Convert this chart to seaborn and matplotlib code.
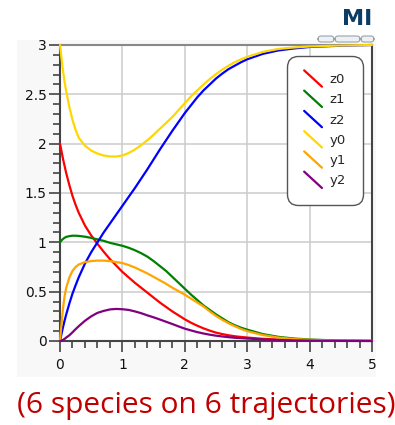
import numpy as np
import pandas as pd
import matplotlib
matplotlib.use("Agg")
import matplotlib.pyplot as plt
import seaborn as sns
from matplotlib.lines import Line2D
from matplotlib.legend_handler import HandlerBase
from matplotlib.patches import Rectangle, FancyBboxPatch
from matplotlib.ticker import MultipleLocator, FuncFormatter

# ---------------- data ----------------
t = [0, 0.025, 0.05, 0.075, 0.1, 0.15, 0.2, 0.25,
     0.3, 0.4, 0.5, 0.6, 0.7, 0.8, 0.9, 1.0,
     1.1, 1.2, 1.3, 1.4, 1.5, 1.6, 1.7, 1.8, 1.9, 2.0,
     2.1, 2.2, 2.3, 2.4, 2.5, 2.6, 2.7, 2.8, 2.9, 3.0,
     3.25, 3.5, 3.75, 4.0, 4.5, 5.0]

z0 = [2.0, 1.92, 1.84, 1.77, 1.70, 1.58, 1.47, 1.38,
      1.30, 1.17, 1.07, 0.985, 0.905, 0.83, 0.765, 0.70,
      0.645, 0.59, 0.54, 0.49, 0.44, 0.39, 0.345, 0.30, 0.26, 0.22,
      0.185, 0.155, 0.128, 0.105, 0.085, 0.07, 0.058, 0.048, 0.041, 0.035,
      0.022, 0.014, 0.009, 0.006, 0.002, 0.001]
z1 = [1.0, 1.02, 1.035, 1.047, 1.055, 1.063, 1.067, 1.067,
      1.065, 1.057, 1.045, 1.03, 1.015, 0.995, 0.98, 0.965,
      0.945, 0.92, 0.89, 0.855, 0.81, 0.76, 0.71, 0.65, 0.59, 0.53,
      0.47, 0.415, 0.36, 0.315, 0.27, 0.23, 0.19, 0.16, 0.135, 0.115,
      0.07, 0.042, 0.025, 0.015, 0.004, 0.001]
z2 = [0.0, 0.075, 0.145, 0.21, 0.27, 0.38, 0.48, 0.565,
      0.645, 0.785, 0.90, 1.0, 1.10, 1.19, 1.28, 1.37,
      1.46, 1.55, 1.645, 1.74, 1.84, 1.94, 2.035, 2.13, 2.22, 2.31,
      2.39, 2.47, 2.54, 2.60, 2.66, 2.71, 2.755, 2.79, 2.825, 2.855,
      2.91, 2.945, 2.965, 2.98, 2.993, 3.0]
y0 = [3.0, 2.86, 2.73, 2.62, 2.53, 2.37, 2.24, 2.14,
      2.06, 1.98, 1.93, 1.90, 1.88, 1.87, 1.87, 1.88,
      1.905, 1.94, 1.985, 2.035, 2.09, 2.15, 2.21, 2.27, 2.34, 2.41,
      2.48, 2.54, 2.60, 2.655, 2.705, 2.75, 2.79, 2.825, 2.855, 2.88,
      2.93, 2.96, 2.975, 2.985, 2.995, 3.0]
y1 = [0.0, 0.18, 0.34, 0.46, 0.54, 0.645, 0.71, 0.75,
      0.775, 0.80, 0.81, 0.815, 0.815, 0.81, 0.80, 0.79,
      0.77, 0.745, 0.715, 0.685, 0.65, 0.615, 0.58, 0.54, 0.505, 0.47,
      0.43, 0.39, 0.35, 0.30, 0.255, 0.215, 0.18, 0.15, 0.122, 0.10,
      0.06, 0.035, 0.02, 0.012, 0.004, 0.001]
y2 = [0.0, 0.004, 0.012, 0.022, 0.035, 0.058, 0.088, 0.12,
      0.15, 0.205, 0.25, 0.285, 0.305, 0.32, 0.325, 0.322,
      0.315, 0.30, 0.282, 0.26, 0.24, 0.218, 0.195, 0.172, 0.148, 0.125,
      0.107, 0.09, 0.076, 0.064, 0.054, 0.046, 0.039, 0.033, 0.029, 0.025,
      0.016, 0.01, 0.006, 0.004, 0.001, 0.0]

species = ["z0", "z1", "z2", "y0", "y1", "y2"]
colors = {"z0": "#ff0000", "z1": "#008000", "z2": "#0000ff",
          "y0": "#ffd700", "y1": "#ffa500", "y2": "#800080"}
title = "(6 species on 6 trajectories)"

series = {"z0": z0, "z1": z1, "z2": z2, "y0": y0, "y1": y1, "y2": y2}
df = pd.DataFrame({
    "t": np.tile(t, len(species)),
    "value": np.concatenate([series[s] for s in species]),
    "species": np.repeat(species, len(t)),
})

# ---------------- figure ----------------
sns.set_theme(style="white")
plt.rcParams["font.family"] = ["DejaVu Sans"]

W, H = 395, 425
fig = plt.figure(figsize=(W / 100, H / 100), dpi=100)
fig.patch.set_facecolor("white")

def fx(px):
    return px / W

def fy(py):
    return 1 - py / H

# faint widget panel
fig.add_artist(Rectangle((fx(17), fy(377)), fx(376) - fx(17), fy(40) - fy(377),
                         transform=fig.transFigure, facecolor="#f8f8f8",
                         edgecolor="none", zorder=-5))

ax = fig.add_axes([fx(60), fy(341), fx(372) - fx(60), fy(45) - fy(341)])
ax.set_facecolor("white")

sns.lineplot(data=df, x="t", y="value", hue="species", hue_order=species,
             palette=colors, linewidth=1.6, legend=False, ax=ax,
             sort=False, estimator=None)
for ln in ax.get_lines():
    ln.set_clip_on(False)
    ln.set_zorder(3)
    ln.set_solid_capstyle("round")
    ln.set_solid_joinstyle("round")

ax.set_xlim(0, 5)
ax.set_ylim(0, 3)
ax.set_xlabel("")
ax.set_ylabel("")
ax.xaxis.set_major_locator(MultipleLocator(1))
ax.xaxis.set_minor_locator(MultipleLocator(0.2))
ax.yaxis.set_major_locator(MultipleLocator(0.5))
ax.yaxis.set_minor_locator(MultipleLocator(0.1))
ax.yaxis.set_major_formatter(FuncFormatter(lambda v, p: f"{v:g}"))
ax.grid(True, which="major", color="#cccccc", linewidth=1.1)
ax.set_axisbelow(True)

ax.tick_params(which="major", direction="out", length=8, width=1.1, color="#333333",
               labelsize=10, labelcolor="#111111", bottom=True, left=True)
ax.tick_params(axis="y", which="major", pad=1.5)
ax.tick_params(axis="x", which="major", pad=4)
ax.tick_params(which="minor", direction="out", length=4.8, width=1.1, color="#333333",
               bottom=True, left=True)

for side, sp in ax.spines.items():
    sp.set_visible(True)
    sp.set_linewidth(1.5)
    sp.set_color("#444444")
ax.spines["top"].set_color("#888888")

# ---------------- legend with diagonal handles ----------------
class DiagHandler(HandlerBase):
    def create_artists(self, legend, orig_handle, xdescent, ydescent,
                       width, height, fontsize, trans):
        cy = -ydescent + height / 2
        dy = 0.62 * fontsize
        x0 = -xdescent
        line = Line2D([x0, x0 + width], [cy + dy, cy - dy],
                      color=orig_handle.get_color(), linewidth=1.6,
                      transform=trans)
        return [line]

handles = [Line2D([], [], color=colors[s], label=s) for s in species]
leg = ax.legend(handles=handles, labels=species,
                handler_map={Line2D: DiagHandler()},
                loc="upper left", bbox_to_anchor=(fx(287), fy(56)),
                bbox_transform=fig.transFigure, fontsize=9.5,
                frameon=True, fancybox=True, borderpad=1.3, labelspacing=0.55,
                handlelength=1.35, handletextpad=0.55, borderaxespad=0)
fr = leg.get_frame()
fr.set_boxstyle("round", pad=0, rounding_size=0.8)
fr.set_edgecolor("#555555")
fr.set_linewidth(1.0)
fr.set_facecolor("white")
fr.set_alpha(1)
leg.set_zorder(10)

# ---------------- decorations ----------------
for x0, x1 in [(318, 334), (335, 360), (361, 374)]:
    fig.add_artist(FancyBboxPatch((fx(x0), fy(42)), fx(x1) - fx(x0), fy(36) - fy(42),
                                  boxstyle="round,pad=0,rounding_size=0.008",
                                  transform=fig.transFigure, facecolor="#eef1f3",
                                  edgecolor="#9aa3aa", linewidth=0.8, zorder=1))

fig.text(fx(372), fy(19), "MI", ha="right", va="center", fontsize=16,
         fontweight="bold", color="#0b3c64")

fig.text(fx(17), fy(405), title, ha="left", va="center", fontsize=21.5,
         color="#c00000", family=["Open Sans", "DejaVu Sans"])

fig.savefig("out.png", dpi=100)
